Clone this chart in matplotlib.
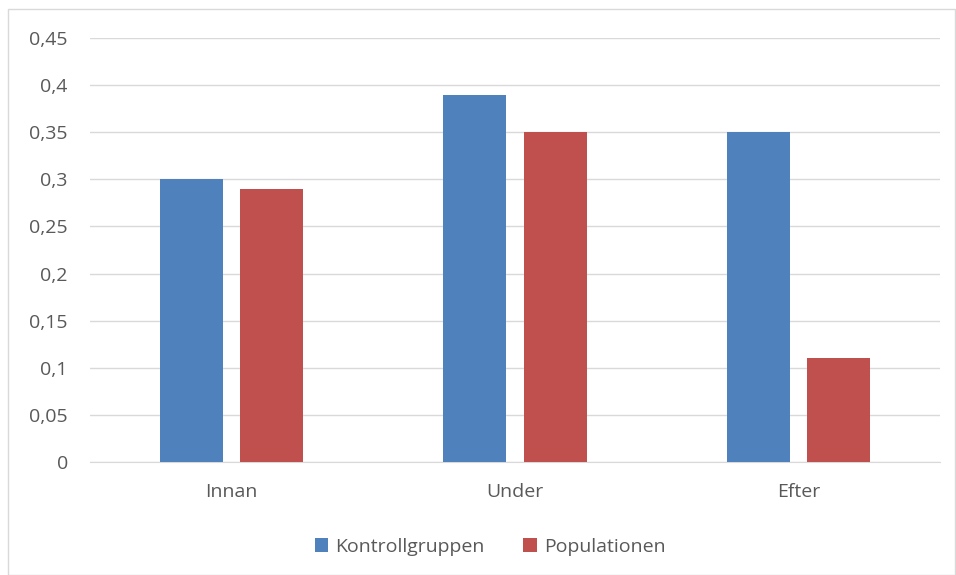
import matplotlib.pyplot as plt
import numpy as np
from matplotlib.patches import Rectangle

plt.rcParams['font.family'] = ['Open Sans', 'DejaVu Sans']

categories = ['Innan', 'Under', 'Efter']
kontroll = [0.30, 0.39, 0.35]
population = [0.29, 0.35, 0.11]
yticks = [0, 0.05, 0.1, 0.15, 0.2, 0.25, 0.3, 0.35, 0.4, 0.45]
ytick_labels = ['0', '0,05', '0,1', '0,15', '0,2', '0,25', '0,3', '0,35', '0,4', '0,45']

text_col = '#595959'
grid_col = '#d9d9d9'

fig = plt.figure(figsize=(9.56, 5.75), dpi=100)
ax = fig.add_axes([90 / 956, 1 - 462 / 575, 850 / 956, 424 / 575])

# outer chart border
fig.patches.append(Rectangle((8 / 956, 0), 1 - 8 / 956 - 1 / 956, 1 - 9 / 575,
                             transform=fig.transFigure, fill=False,
                             edgecolor=grid_col, linewidth=1))

x = np.arange(len(categories))
w = 0.222
off = 0.142
ax.bar(x - off, kontroll, w, color='#4F81BD', label='Kontrollgruppen', zorder=3)
ax.bar(x + off, population, w, color='#C0504D', label='Populationen', zorder=3)

ax.set_xlim(-0.5, 2.5)
ax.set_ylim(0, 0.45)
ax.set_yticks(yticks)
ax.set_yticklabels(ytick_labels)
ax.set_xticks(x)
ax.set_xticklabels(categories)
ax.yaxis.grid(True, color=grid_col, linewidth=1, zorder=0)
ax.set_axisbelow(True)

for s in ['top', 'right', 'left']:
    ax.spines[s].set_visible(False)
ax.spines['bottom'].set_color(grid_col)
ax.tick_params(axis='both', length=0, labelsize=14, colors=text_col)
ax.tick_params(axis='y', pad=16)
ax.tick_params(axis='x', pad=15)

fig.legend(loc='center', bbox_to_anchor=(490 / 956, 1 - 547 / 575), ncol=2,
           frameon=False, fontsize=14, labelcolor=text_col,
           handlelength=0.7, handleheight=0.7, handletextpad=0.35, columnspacing=2.0)

fig.savefig('out.png', dpi=100)
